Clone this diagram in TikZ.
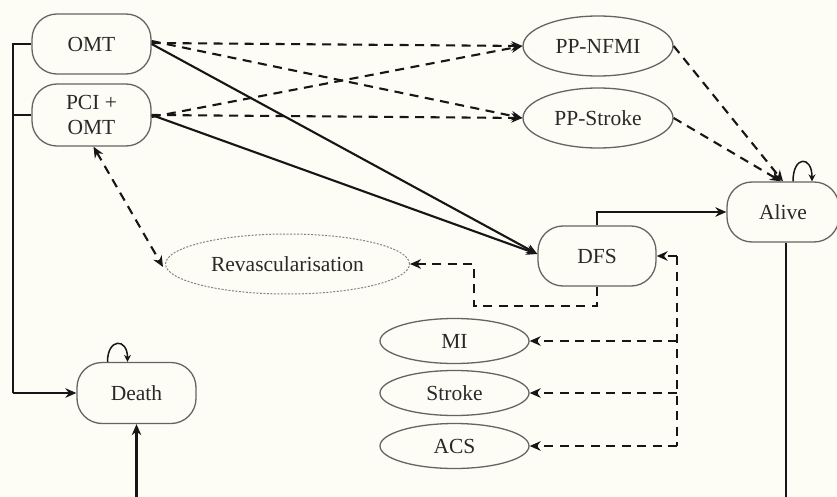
\documentclass[tikz,border=0pt]{standalone}
\usepackage{fontspec}
\setmainfont{Liberation Serif}
\usetikzlibrary{shapes.misc,shapes.geometric,arrows.meta}
\definecolor{bg}{RGB}{253,253,246}
\definecolor{edge}{RGB}{100,100,100}
\definecolor{ink}{RGB}{22,22,22}
\begin{document}
\begin{tikzpicture}[x=1pt,y=-1pt,
  lbl/.style={font=\fontsize{21.5}{25}\selectfont, text=ink!92, align=center, inner sep=0pt},
  box/.style={lbl, rectangle, rounded corners=25pt, draw=edge, line width=1.3pt, minimum width=119pt, minimum height=60pt},
  oval/.style={lbl, ellipse, draw=edge, line width=1.3pt, minimum width=150pt, minimum height=60pt},
  small/.style={oval, minimum width=149pt, minimum height=45pt},
  conn/.style={draw=ink, line width=2.1pt, -{Stealth[length=11pt,width=9.5pt]}},
  dconn/.style={conn, dash pattern=on 9pt off 6.5pt},
  plain/.style={draw=ink, line width=2.1pt},
  dplain/.style={plain, dash pattern=on 9pt off 6.5pt},
  loopa/.style={draw=ink, line width=1.5pt, -{Stealth[open,length=7pt,width=7pt]}}]
\path[fill=bg] (0,0) rectangle (837,497);
\useasboundingbox (0,0) rectangle (837,497);

% nodes
\node[box] (omt) at (91.5,44) {OMT};
\node[box, minimum height=62pt] (pci) at (91.5,115) {PCI +\\OMT};
\node[oval] (ppn) at (598,46) {PP-NFMI};
\node[oval] (pps) at (598,118) {PP-Stroke};
\node[box, minimum width=112pt] (alive) at (783,212) {Alive};
\node[box, minimum width=118pt] (dfs) at (597,256) {DFS};
\node[oval, minimum width=244pt, draw=edge!80, line width=1pt, dash pattern=on 2pt off 1.5pt] (rev) at (287.5,264) {Revascularisation};
\node[box, minimum width=119pt, minimum height=61pt] (death) at (136.5,393) {Death};
\node[small] (mi) at (454.5,341) {MI};
\node[small] (stroke) at (454.5,393) {Stroke};
\node[small] (acs) at (454.5,446) {ACS};

% helper coordinates
\coordinate (lt) at (13,44);
\coordinate (lm) at (13,115);
\coordinate (lb) at (13,393);
\coordinate (dtop) at (597,212);
\coordinate (db1) at (597,306);
\coordinate (db2) at (474,306);
\coordinate (db3) at (474,264);
\coordinate (vr0) at (677,256);
\coordinate (vr1) at (677,341);
\coordinate (vr2) at (677,393);
\coordinate (vr3) at (677,446);
\coordinate (abot) at (786,497);
\coordinate (dbot) at (136.5,497);

% left trunk to Death
\draw[plain] (omt.west) -- (lt) -- (lb);
\draw[plain] (pci.west) -- (lm);
\draw[conn] (lb) -- (death.west);

% solid lines into DFS
\draw[conn] (omt.east) -- ([yshift=2pt]dfs.west);
\draw[conn] (pci.east) -- ([yshift=2pt]dfs.west);

% dashed lines to PP nodes
\draw[dconn] ([yshift=1pt]omt.east) -- (ppn.west);
\draw[dconn] ([yshift=3pt]omt.east) -- (pps.west);
\draw[dconn] ([yshift=-2pt]pci.east) -- (ppn.west);
\draw[dconn] (pci.east) -- (pps.west);

% PP nodes to Alive
\draw[dconn] (ppn.east) -- ([xshift=0pt]alive.north);
\draw[dconn] (pps.east) -- ([xshift=-2pt]alive.north);

% self loops
\draw[loopa] ([xshift=10pt]alive.north) .. controls +(0,-26) and +(0,-26) .. ([xshift=29pt]alive.north);
\draw[loopa] ([xshift=-29pt]death.north) .. controls +(0,-24) and +(0,-24) .. ([xshift=-9pt]death.north);

% DFS to Alive
\draw[conn] (dfs.north) -- (dtop) -- (alive.west);

% DFS to Revascularisation
\draw[dconn] (dfs.south) -- (db1) -- (db2) -- (db3) -- (rev.east);

% PCI <-> Revascularisation
\draw[dconn, {Stealth[length=11pt,width=9.5pt]}-{Stealth[length=11pt,width=9.5pt]}] ([xshift=2pt]pci.south) -- ([xshift=-2pt,yshift=-3pt]rev.west);

% right dashed bus
\draw[dconn] (vr0) -- (dfs.east);
\draw[dplain] (vr0) -- (vr3);
\draw[dconn] (vr1) -- (mi.east);
\draw[dconn] (vr2) -- (stroke.east);
\draw[dconn] (vr3) -- (acs.east);

% lines off the bottom edge
\draw[plain] (alive.south -| abot) -- (abot);
\draw[conn] (dbot) -- (death.south);
\end{tikzpicture}
\end{document}
